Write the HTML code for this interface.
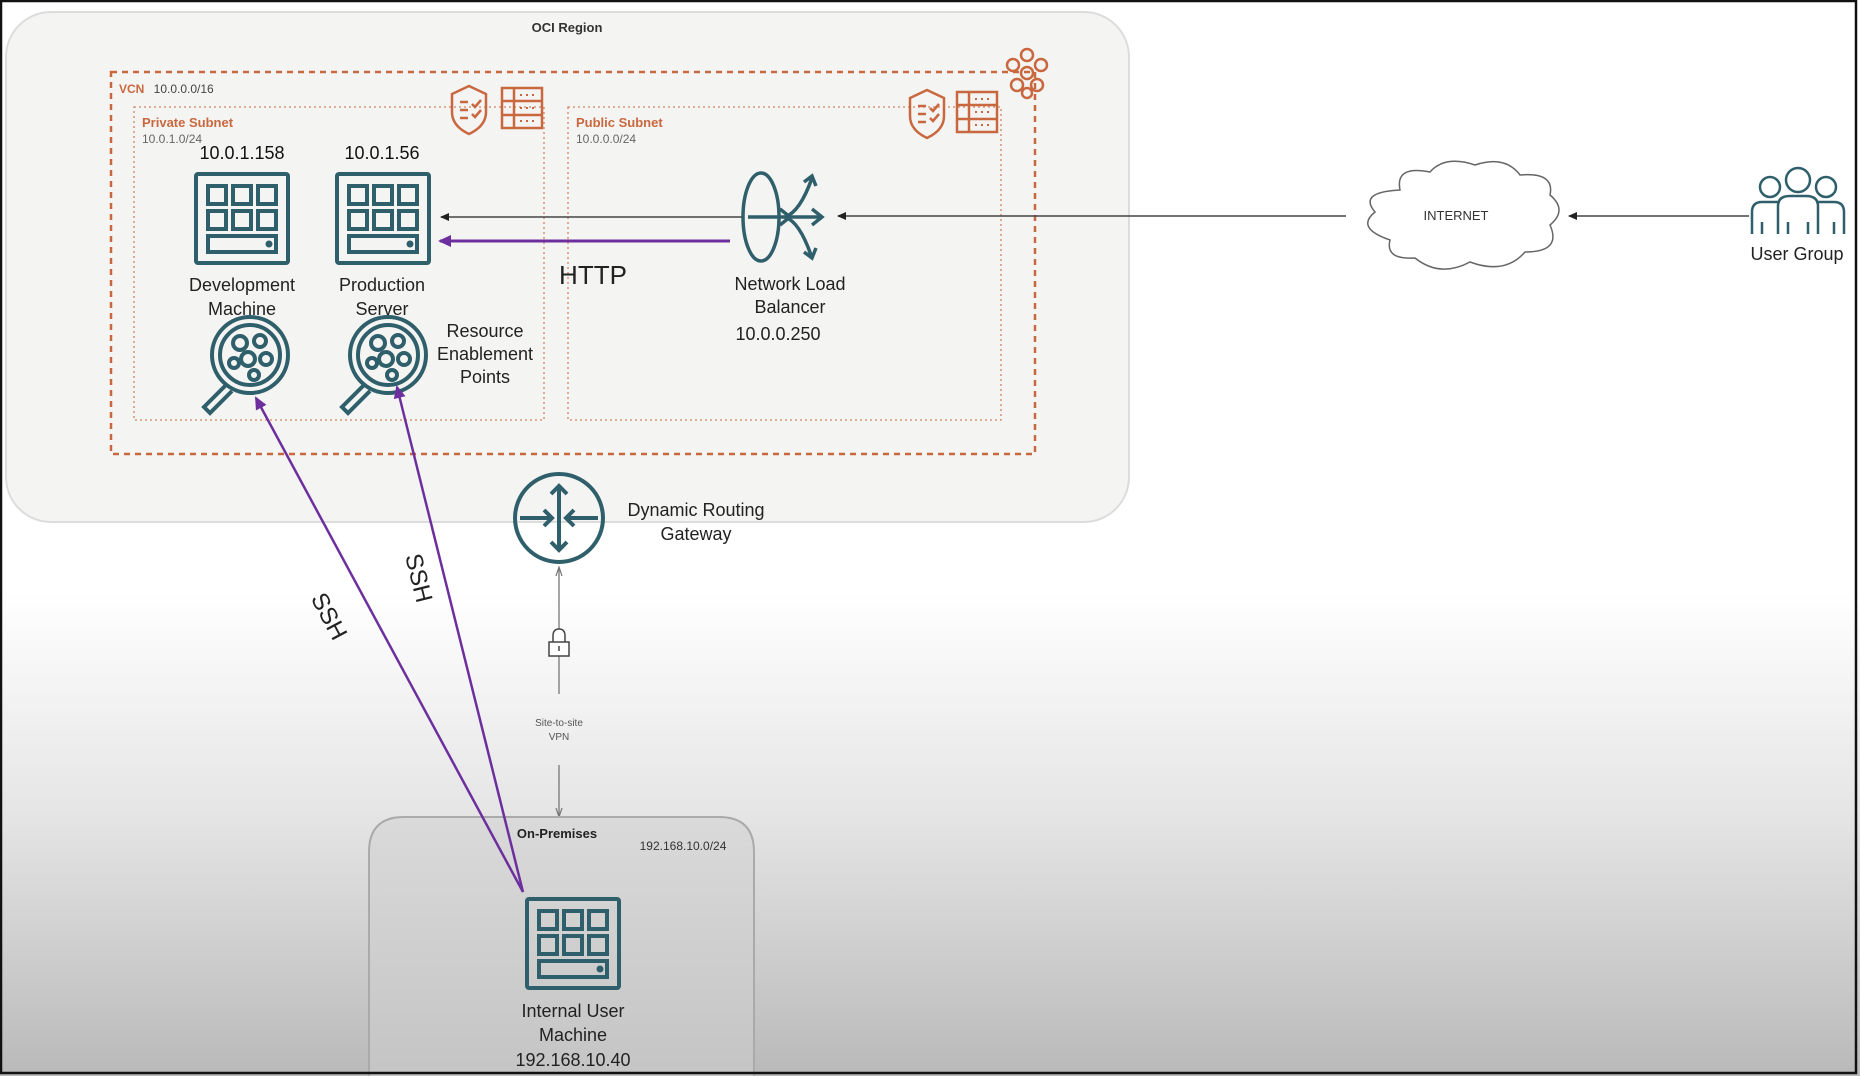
<!DOCTYPE html>
<html><head><meta charset="utf-8"><style>
html,body{margin:0;padding:0}
body{width:1860px;height:1076px;overflow:hidden;font-family:"Liberation Sans",sans-serif;}
</style></head><body>
<svg width="1860" height="1076" viewBox="0 0 1860 1076" xmlns="http://www.w3.org/2000/svg" font-family="Liberation Sans, sans-serif">
<defs>
<linearGradient id="bg" x1="0" y1="0" x2="0" y2="1">
<stop offset="0" stop-color="#ffffff"/><stop offset="0.55" stop-color="#ffffff"/><stop offset="0.75" stop-color="#e6e6e6"/><stop offset="1" stop-color="#b9b9b9"/>
</linearGradient>
<marker id="ab" markerWidth="10" markerHeight="10" refX="8" refY="5" orient="auto" markerUnits="userSpaceOnUse"><path d="M0,1 L9,5 L0,9 z" fill="#222"/></marker>
<marker id="ap" markerWidth="14" markerHeight="14" refX="11" refY="7" orient="auto" markerUnits="userSpaceOnUse"><path d="M0,1 L13,7 L0,13 z" fill="#6d2f9e"/></marker>
<marker id="ag" markerWidth="10" markerHeight="10" refX="8" refY="5" orient="auto" markerUnits="userSpaceOnUse"><path d="M0,2 L9,5 L0,8" fill="none" stroke="#777" stroke-width="1.2"/></marker>
<g id="srv" fill="none" stroke="#2f5f6b" stroke-width="4">
<rect x="0" y="0" width="92" height="89" rx="2"/>
<rect x="12" y="12" width="18" height="18"/><rect x="37" y="12" width="18" height="18"/><rect x="62" y="12" width="18" height="18"/>
<rect x="12" y="37" width="18" height="18"/><rect x="37" y="37" width="18" height="18"/><rect x="62" y="37" width="18" height="18"/>
<rect x="12" y="62" width="68" height="16"/><circle cx="73" cy="70" r="1.5" fill="#2f5f6b"/>
</g>
<g id="mag" fill="none" stroke="#2f5f6b" stroke-width="4">
<circle cx="0" cy="0" r="38"/><circle cx="0" cy="0" r="30"/>
<circle cx="-10" cy="-12" r="7"/><circle cx="10" cy="-14" r="6"/><circle cx="16" cy="4" r="6"/><circle cx="-2" cy="4" r="7"/><circle cx="-16" cy="8" r="5"/><circle cx="4" cy="20" r="5"/>
<path d="M-24,30 L-46,52 L-40,58 L-18,36"/>
</g>
<g id="shield" fill="none" stroke="#c9683f" stroke-width="2.5">
<path d="M0,-22 L17,-14 L17,4 Q17,18 0,26 Q-17,18 -17,4 L-17,-14 Z"/>
<path d="M-9,-6 h8 M-9,2 h8 M-9,10 h8 M3,-4 l3,3 l6,-7 M3,6 l3,3 l6,-7"/>
</g>
<g id="tbl" fill="none" stroke="#c9683f" stroke-width="2.5">
<rect x="0" y="0" width="40" height="40"/><path d="M0,13 h40 M0,27 h40 M12,0 v40"/>
<path d="M18,7 h2 M24,7 h2 M30,7 h2 M18,20 h2 M24,20 h2 M30,20 h2 M18,33 h2 M24,33 h2 M30,33 h2" stroke-width="2"/>
</g>
</defs>
<rect x="0" y="0" width="1860" height="1076" fill="url(#bg)"/>
<!-- OCI region -->
<rect x="6" y="12" width="1123" height="510" rx="45" fill="#f4f4f2" stroke="#dcdcdc" stroke-width="2"/>
<text x="567" y="32" font-size="13" font-weight="bold" text-anchor="middle" fill="#333">OCI Region</text>
<!-- VCN -->
<rect x="111" y="72" width="924" height="382" fill="none" stroke="#c9683f" stroke-width="2.5" stroke-dasharray="6,5"/>
<text x="119" y="93" font-size="12" font-weight="bold" fill="#c9683f">VCN <tspan fill="#444" font-weight="normal" dx="6">10.0.0.0/16</tspan></text>
<g transform="translate(1027,71)" fill="none" stroke="#c9683f" stroke-width="2.5">
<circle cx="0" cy="-16" r="6"/><circle cx="-14" cy="-6" r="6"/><circle cx="14" cy="-6" r="6"/><circle cx="0" cy="2" r="6"/><circle cx="-10" cy="14" r="6"/><circle cx="10" cy="14" r="6"/><circle cx="0" cy="22" r="5"/>
</g>
<!-- subnets -->
<rect x="134" y="107" width="410" height="313" fill="none" stroke="#c9683f" stroke-width="1.3" stroke-dasharray="2,3" opacity="0.8"/>
<rect x="568" y="107" width="433" height="313" fill="none" stroke="#c9683f" stroke-width="1.3" stroke-dasharray="2,3" opacity="0.8"/>
<text x="142" y="127" font-size="13" font-weight="bold" fill="#c9683f">Private Subnet</text>
<text x="142" y="143" font-size="12" fill="#666">10.0.1.0/24</text>
<text x="576" y="127" font-size="13" font-weight="bold" fill="#c9683f">Public Subnet</text>
<text x="576" y="143" font-size="12" fill="#666">10.0.0.0/24</text>
<use href="#shield" x="469" y="108"/><use href="#tbl" x="502" y="88"/>
<use href="#shield" x="927" y="112"/><use href="#tbl" x="957" y="92"/>
<!-- servers -->
<text x="242" y="159" font-size="18" text-anchor="middle" fill="#111">10.0.1.158</text>
<text x="382" y="159" font-size="18" text-anchor="middle" fill="#111">10.0.1.56</text>
<use href="#srv" x="196" y="174"/><use href="#srv" x="337" y="174"/>
<g font-size="18" text-anchor="middle" fill="#222">
<text x="242" y="291">Development</text><text x="242" y="315">Machine</text>
<text x="382" y="291">Production</text><text x="382" y="315">Server</text>
<text x="485" y="337">Resource</text><text x="485" y="360">Enablement</text><text x="485" y="383">Points</text>
</g>
<use href="#mag" x="250" y="355"/><use href="#mag" x="388" y="355"/>
<!-- NLB -->
<g fill="none" stroke="#2f5f6b" stroke-width="3.5">
<ellipse cx="761" cy="217" rx="18" ry="44"/>
<path d="M748,217 H790"/><path d="M780,209 l10,8 l-10,8"/>
<path d="M785,217 Q800,212 812,178"/><path d="M804,182 l8,-6 l4,10"/>
<path d="M785,217 H822"/><path d="M812,209 l10,8 l-10,8"/>
<path d="M785,217 Q800,222 812,258"/><path d="M804,252 l8,6 l4,-10"/>
</g>
<g font-size="18" text-anchor="middle" fill="#222">
<text x="790" y="290">Network Load</text><text x="790" y="313">Balancer</text><text x="778" y="340">10.0.0.250</text>
</g>
<!-- arrows -->
<line x1="742" y1="217" x2="441" y2="217" stroke="#444" stroke-width="1.5" marker-end="url(#ab)"/>
<line x1="1346" y1="216" x2="838" y2="216" stroke="#444" stroke-width="1.5" marker-end="url(#ab)"/>
<line x1="730" y1="241" x2="440" y2="241" stroke="#6d2f9e" stroke-width="3" marker-end="url(#ap)"/>
<text x="593" y="284" font-size="26" text-anchor="middle" fill="#222">HTTP</text>
<!-- internet -->
<path d="M1400,190 Q1395,165 1430,172 Q1445,155 1475,165 Q1505,155 1520,175 Q1555,172 1550,195 Q1568,210 1550,225 Q1562,252 1525,252 Q1505,275 1470,262 Q1440,278 1415,258 Q1385,260 1390,240 Q1355,228 1375,212 Q1358,192 1400,190 Z" fill="#fff" stroke="#666" stroke-width="1.5"/>
<text x="1456" y="220" font-size="13" text-anchor="middle" fill="#333">INTERNET</text>
<line x1="1749" y1="216" x2="1569" y2="216" stroke="#444" stroke-width="1.5" marker-end="url(#ab)"/>
<!-- user group -->
<g fill="none" stroke="#2f5f6b" stroke-width="2.5">
<circle cx="1770" cy="187" r="10"/><circle cx="1798" cy="180" r="12"/><circle cx="1826" cy="187" r="10"/>
<path d="M1752,234 V212 Q1752,202 1762,202 H1780 M1816,202 H1834 Q1844,202 1844,212 V234"/>
<path d="M1778,234 V206 Q1778,196 1790,196 H1806 Q1818,196 1818,206 V234"/>
<path d="M1762,222 V234 M1788,222 V234 M1808,222 V234 M1834,222 V234"/>
</g>
<text x="1797" y="260" font-size="18" text-anchor="middle" fill="#222">User Group</text>
<!-- DRG -->
<g fill="none" stroke="#2f5f6b" stroke-width="4">
<circle cx="559" cy="518" r="44"/>
<path d="M559,486 V550 M551,494 l8,-8 l8,8 M551,542 l8,8 l8,-8"/>
<path d="M520,518 H552 M544,510 l8,8 l-8,8 M598,518 H566 M574,510 l-8,8 l8,8"/>
</g>
<text x="696" y="516" font-size="18" text-anchor="middle" fill="#222">Dynamic Routing</text>
<text x="696" y="540" font-size="18" text-anchor="middle" fill="#222">Gateway</text>
<!-- VPN -->
<line x1="559" y1="694" x2="559" y2="568" stroke="#777" stroke-width="1.3" marker-end="url(#ag)"/>
<g fill="#fff" stroke="#444" stroke-width="1.5"><path d="M553,642 V636 Q553,629 559,629 Q565,629 565,636 V642"/><rect x="549" y="642" width="20" height="14"/><path d="M559,646 v5"/></g>
<text x="559" y="726" font-size="10" text-anchor="middle" fill="#555">Site-to-site</text>
<text x="559" y="740" font-size="10" text-anchor="middle" fill="#555">VPN</text>
<line x1="559" y1="765" x2="559" y2="816" stroke="#777" stroke-width="1.3" marker-end="url(#ag)"/>
<!-- on prem -->
<path d="M369,1080 V852 Q369,817 404,817 H719 Q754,817 754,852 V1080" fill="#cfcfcf" fill-opacity="0.5" stroke="#aaa" stroke-width="2"/>
<text x="557" y="838" font-size="13" font-weight="bold" text-anchor="middle" fill="#222">On-Premises</text>
<text x="683" y="850" font-size="12" text-anchor="middle" fill="#333">192.168.10.0/24</text>
<use href="#srv" x="527" y="899"/>
<g font-size="18" text-anchor="middle" fill="#222">
<text x="573" y="1017">Internal User</text><text x="573" y="1041">Machine</text><text x="573" y="1066">192.168.10.40</text>
</g>
<!-- SSH -->
<line x1="523" y1="892" x2="256" y2="398" stroke="#6d2f9e" stroke-width="2.5" marker-end="url(#ap)"/>
<line x1="523" y1="892" x2="397" y2="387" stroke="#6d2f9e" stroke-width="2.5" marker-end="url(#ap)"/>
<text x="0" y="0" font-size="24" fill="#222" text-anchor="middle" transform="translate(322,620) rotate(62)">SSH</text>
<text x="0" y="0" font-size="24" fill="#222" text-anchor="middle" transform="translate(411,580) rotate(76)">SSH</text>
<!-- frame -->
<rect x="1" y="1" width="1855" height="1072" fill="none" stroke="#111" stroke-width="2.5"/>
</svg>
</body></html>
